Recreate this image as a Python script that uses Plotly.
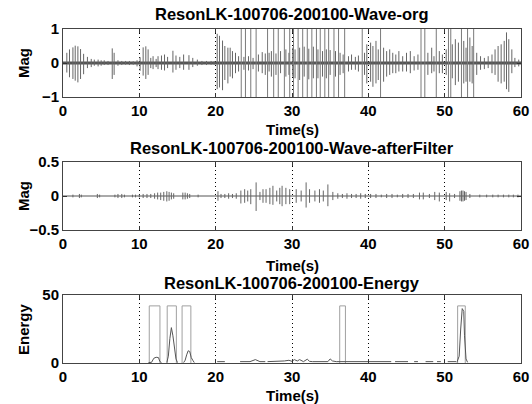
import plotly.graph_objects as go

# ---------------- data ----------------
x_ticks = [0, 10, 20, 30, 40, 50, 60]

# Panel 1: original wave, spikes (time, positive peak, negative peak)
org_t = [0.5, 0.85, 1.3, 1.6, 1.95, 2.3, 2.7, 3.2, 3.7, 4.1, 4.6, 5.0, 5.4, 5.9, 6.45, 6.7, 7.2, 7.7, 8.2, 8.7,
         9.2, 9.7, 10.1, 10.5, 10.85, 11.15, 11.5, 11.8, 12.2, 12.45, 12.9, 13.3, 13.7, 14.4, 14.8, 15.3, 15.8,
         16.5, 17.0, 17.6, 18.2, 18.8, 19.4, 19.8,
         20.2, 20.5, 20.9, 21.2, 21.6, 21.9, 22.2, 22.6, 23.0, 23.7, 24.3, 24.9, 25.6, 26.1, 26.5, 27.0, 27.3,
         27.9, 28.5, 29.2, 29.6, 30.1, 30.4, 31.0, 31.6, 32.2, 32.8, 33.4, 34.0, 34.5, 35.0, 35.7, 36.3, 36.7,
         37.4, 37.8, 38.3, 38.7, 39.5, 39.8,
         40.3, 40.6, 41.0, 41.3, 42.0, 42.4, 42.8, 43.2, 43.6, 44.0, 44.5, 45.0, 45.5, 46.0, 46.5, 47.8, 48.3,
         48.6, 49.3, 49.7, 50.2, 51.0, 51.4, 51.8, 52.5, 52.8, 53.3, 53.6, 54.2, 54.7, 55.2, 55.7, 56.2, 56.6,
         57.0, 57.4, 57.8, 58.1, 58.4, 58.8, 59.2, 59.7]
org_pos = [.30, .40, .46, .51, .49, .41, .27, .18, .12, .10, .10, .08, .08, .06, .43, .30, .08, .06, .06, .06,
           .05, .08, .17, .46, .49, .40, .15, .20, .12, .20, .22, .25, .18, .36, .22, .18, .25,
           .23, .15, .10, .06, .06, .06, .05,
           .86, .80, .66, .50, .45, .45, .35, .30, .20, .18, .20, .15, .25, .32, .28, .30, .35,
           .28, .35, .40, .30, .45, .40, .45, .48, .42, .48, .40, .35, .40, .38, .35, .30, .25,
           .20, .25, .18, .22, .30, .55,
           .60, .50, .65, .40, .45, .35, .40, .30, .25, .35, .20, .30, .35, .20, .25, .30, .45,
           .20, .35, .25, .40, .55, .70, .60, .65, .45, .75, .50, .30, .20, .15, .20, .25, .40,
           .50, .55, .65, .90, .70, .40, .15, .10]
org_neg = [.28, .42, .47, .52, .57, .47, .33, .15, .12, .08, .10, .08, .06, .06, .47, .35, .08, .06, .05, .06,
           .05, .10, .23, .37, .47, .35, .15, .18, .12, .18, .20, .22, .15, .28, .20, .15, .20,
           .20, .12, .08, .06, .06, .05, .05,
           .77, .72, .80, .50, .60, .40, .45, .30, .25, .20, .22, .18, .25, .30, .35, .25, .40,
           .35, .30, .40, .35, .40, .45, .50, .40, .48, .45, .45, .40, .45, .35, .40, .35, .30,
           .25, .20, .20, .25, .35, .60,
           .55, .70, .60, .50, .55, .40, .35, .30, .30, .25, .25, .25, .30, .22, .20, .35, .30,
           .25, .30, .30, .35, .45, .65, .55, .60, .55, .55, .60, .35, .20, .18, .15, .30, .35,
           .55, .60, .55, .77, .85, .30, .12, .10]
# spikes clipped at full scale (+-1)
org_full_t = [23.35, 23.9, 24.6, 25.3, 26.8, 27.6, 28.2, 29.0, 29.7, 30.2, 30.8, 31.4, 32.0, 32.6, 33.2,
              33.7, 34.3, 34.8, 35.5, 36.1, 36.9, 39.2, 41.6, 46.9, 47.4, 48.9, 50.5, 50.8, 52.2, 53.0, 53.8]

# Panel 2: filtered wave spikes
filt_t = [1.3, 2.15, 2.4, 4.5, 4.8, 6.8, 7.2, 7.7, 8.05, 9.1, 9.5, 10.0, 10.5, 11.0, 11.5, 12.0, 12.4, 12.8,
          13.2, 13.6, 13.9, 14.2, 14.5, 15.7, 16.0, 16.3, 16.6, 17.7,
          20.3, 20.7, 21.2, 21.7, 22.2, 22.7, 23.3, 23.8, 24.2, 24.6, 25.3, 25.8, 26.2, 26.6, 27.1, 27.5, 28.0,
          28.4, 28.7, 29.2, 29.7, 30.55, 31.2, 31.85, 32.3, 33.0, 33.6, 34.1, 34.7, 35.35, 36.0, 36.6, 37.2,
          37.8, 38.4, 39.0, 39.6, 40.3, 41.0, 41.7, 42.4, 43.1, 43.8, 44.5, 45.2, 45.9, 46.7, 47.2, 48.0,
          48.7, 49.3, 50.2, 50.65, 51.3, 52.0, 52.2, 52.4, 52.6, 52.8, 53.3, 54.6, 55.5, 56.3, 57.0, 57.7,
          58.4, 59.0, 59.6]
filt_pos = [.02, .03, .02, .03, .02, .02, .03, .03, .02, .02, .02, .02, .03, .03, .03, .04, .05, .05,
            .06, .07, .06, .05, .04, .05, .05, .04, .03, .02,
            .07, .03, .03, .04, .03, .04, .08, .10, .08, .10, .20, .06, .10, .10, .12, .15, .08,
            .12, .15, .12, .10, .10, .08, .20, .10, .08, .10, .08, .17, .06, .04, .03, .04,
            .03, .03, .04, .03, .03, .03, .02, .03, .03, .02, .03, .03, .03, .05, .05, .03,
            .06, .05, .06, .04, .03, .07, .08, .08, .07, .06, .03, .02, .02, .02, .02, .02,
            .02, .02, .02]
filt_neg = [.02, .03, .02, .03, .02, .02, .03, .03, .02, .02, .02, .02, .03, .03, .03, .04, .05, .06,
            .07, .08, .07, .05, .04, .05, .05, .04, .03, .02,
            .07, .03, .03, .04, .03, .04, .11, .10, .08, .12, .22, .06, .10, .10, .12, .13, .08,
            .12, .15, .12, .12, .10, .08, .17, .10, .08, .10, .08, .15, .06, .04, .03, .04,
            .03, .03, .04, .03, .03, .03, .02, .03, .03, .02, .03, .03, .03, .05, .05, .03,
            .06, .08, .06, .08, .03, .07, .08, .08, .07, .06, .03, .02, .02, .02, .02, .02,
            .02, .02, .02]

# Panel 3: detection boxes and energy
rect_start = [11.3, 13.65, 15.6, 36.25, 51.7]
rect_end = [12.7, 14.85, 16.75, 37.0, 52.7]
rect_height = 42

energy_t = [11.2, 11.6, 11.9, 12.2, 12.5, 12.7, 12.9, None,
            13.6, 13.8, 14.0, 14.2, 14.4, 14.6, 14.8, 15.0, None,
            15.8, 16.0, 16.2, 16.4, 16.6, 16.8, 17.0, 17.2, None,
            20.2, 21.2, None,
            23.2, 24.5, 25.2, 25.5, 25.8, 26.5, None,
            26.8, 27.5, 28.3, 29.0, 29.6, 30.0, 30.3, 30.7, 31.0, 31.5, 32.0, 32.3, 32.7, 33.2, 33.6,
            34.0, 34.7, 35.0, 35.3, 35.8, 36.2, 37.3, 40.0, 43.0, None,
            43.5, 45.2, None, 46.0, 46.5, None, 47.5, 48.5, None, 49.0, 49.5, None, 50.4, 51.5, None,
            51.6, 51.9, 52.1, 52.3, 52.5, 52.6, 52.8, 53.0]
energy_v = [0.3, 0.5, 3.5, 4.2, 4.0, 1.0, 0.3, None,
            0.3, 5, 18, 26, 20, 12, 3, 0.3, None,
            0.3, 2, 6, 9, 8.5, 4, 2, 0.3, None,
            1, 1, None,
            1, 1, 2.5, 2, 1, 1, None,
            1, 1, 1.2, 1.5, 2.0, 1.2, 2.5, 1.5, 2.5, 1.0, 2.8, 1.2, 1.0, 1.0, 1.0,
            1, 1, 3, 1.5, 1, 1, 1, 1, 1, None,
            1, 1, None, 1, 1, None, 1, 1, None, 1, 1, None, 1, 1, None,
            0.5, 5, 25, 40, 38, 20, 3, 0.5]

titles = ["ResonLK-100706-200100-Wave-org",
          "ResonLK-100706-200100-Wave-afterFilter",
          "ResonLK-100706-200100-Energy"]
y_labels = ["Mag", "Mag", "Energy"]
x_label = "Time(s)"

# ---------------- figure ----------------
W, H = 532, 404
FONT = "Liberation Sans, Arial, Helvetica, sans-serif"
WAVE = "#666666"


def spikes(ts, ps, ns):
    xs, ys = [], []
    for t, p, n in zip(ts, ps, ns):
        xs += [t, t, None]
        ys += [p, -n, None]
    return xs, ys


fig = go.Figure()

# panel 1
fig.add_trace(go.Scatter(x=[x_ticks[0], x_ticks[-1]], y=[0, 0], mode="lines",
                         line=dict(color="#555555", width=3), xaxis="x", yaxis="y"))
sx, sy = spikes(org_t, org_pos, org_neg)
fig.add_trace(go.Scatter(x=sx, y=sy, mode="lines", line=dict(color=WAVE, width=1), xaxis="x", yaxis="y"))
fx, fy = spikes(org_full_t, [1.0] * len(org_full_t), [1.0] * len(org_full_t))
fig.add_trace(go.Scatter(x=fx, y=fy, mode="lines", line=dict(color="#7a7a7a", width=1), xaxis="x", yaxis="y"))

# panel 2
fig.add_trace(go.Scatter(x=[x_ticks[0], x_ticks[-1]], y=[0, 0], mode="lines",
                         line=dict(color="#555555", width=1), xaxis="x2", yaxis="y2"))
sx, sy = spikes(filt_t, filt_pos, filt_neg)
fig.add_trace(go.Scatter(x=sx, y=sy, mode="lines", line=dict(color=WAVE, width=1), xaxis="x2", yaxis="y2"))

# panel 3
rx, ry = [], []
for a, b in zip(rect_start, rect_end):
    rx += [a, a, b, b, None]
    ry += [0, rect_height, rect_height, 0, None]
fig.add_trace(go.Scatter(x=rx, y=ry, mode="lines", line=dict(color="#a0a0a0", width=1), xaxis="x3", yaxis="y3"))
fig.add_trace(go.Scatter(x=energy_t, y=energy_v, mode="lines", line=dict(color="#555555", width=1),
                         xaxis="x3", yaxis="y3"))

# panel geometry in pixels (top, bottom)
panels = [(29, 97), (162, 230), (295, 363)]
x0px, x1px = 63, 521
xdom = [x0px / W, x1px / W]
yranges = [[-1, 1], [-0.5, 0.5], [0, 50]]
yticks = [[-1, 0, 1], [-0.5, 0, 0.5], [0, 50]]
ytext = [["\u22121", "0", "1"], ["\u22120.5", "0", "0.5"], ["0", "50"]]
title_y = [13.5, 147.5, 282.5]
xlabel_y = [129.5, 265.5, 395]

axfont = dict(family=FONT, size=15, color="black", weight="bold")
layout = dict(width=W, height=H, margin=dict(l=0, r=0, t=0, b=0, autoexpand=False), showlegend=False,
              paper_bgcolor="white", plot_bgcolor="white", font=axfont, template="none")
annotations = []
for i, (top, bot) in enumerate(panels):
    suf = "" if i == 0 else str(i + 1)
    layout["xaxis" + suf] = dict(domain=xdom, range=[0, 60], tickvals=x_ticks, ticks="inside", ticklen=4,
                                 tickcolor="#333333", showline=True, linecolor="#444444", linewidth=1,
                                 mirror="ticks", showgrid=True, gridcolor="black", griddash="1px,3px",
                                 gridwidth=1, zeroline=False, anchor="y" + suf, tickfont=axfont,
                                 fixedrange=True, automargin=False)
    layout["yaxis" + suf] = dict(domain=[1 - bot / H, 1 - top / H], range=yranges[i], tickvals=yticks[i],
                                 ticktext=ytext[i], ticks="inside", ticklen=4, tickcolor="#333333",
                                 showline=True, linecolor="#444444", linewidth=1, mirror="ticks",
                                 showgrid=False, zeroline=False, anchor="x" + suf, tickfont=axfont,
                                 fixedrange=True, automargin=False)
    xc = (x0px + x1px) / 2 / W
    annotations.append(dict(text=titles[i], x=xc, y=1 - title_y[i] / H, xref="paper", yref="paper",
                            showarrow=False, xanchor="center", yanchor="middle",
                            font=dict(family=FONT, size=16.5, color="black", weight="bold")))
    annotations.append(dict(text=x_label, x=xc, y=1 - xlabel_y[i] / H, xref="paper", yref="paper",
                            showarrow=False, xanchor="center", yanchor="middle",
                            font=dict(family=FONT, size=15, color="black", weight="bold")))
    annotations.append(dict(text=y_labels[i], x=23 / W, y=1 - (top + bot) / 2 / H, xref="paper",
                            yref="paper", showarrow=False, xanchor="center", yanchor="middle",
                            textangle=-90,
                            font=dict(family=FONT, size=15, color="black", weight="bold")))
layout["annotations"] = annotations
fig.update_layout(**layout)

fig.write_html("out.html", config={"displayModeBar": False},
               post_script="document.body.style.margin='0';document.body.style.padding='0';"
                           "document.body.style.overflow='hidden';")
